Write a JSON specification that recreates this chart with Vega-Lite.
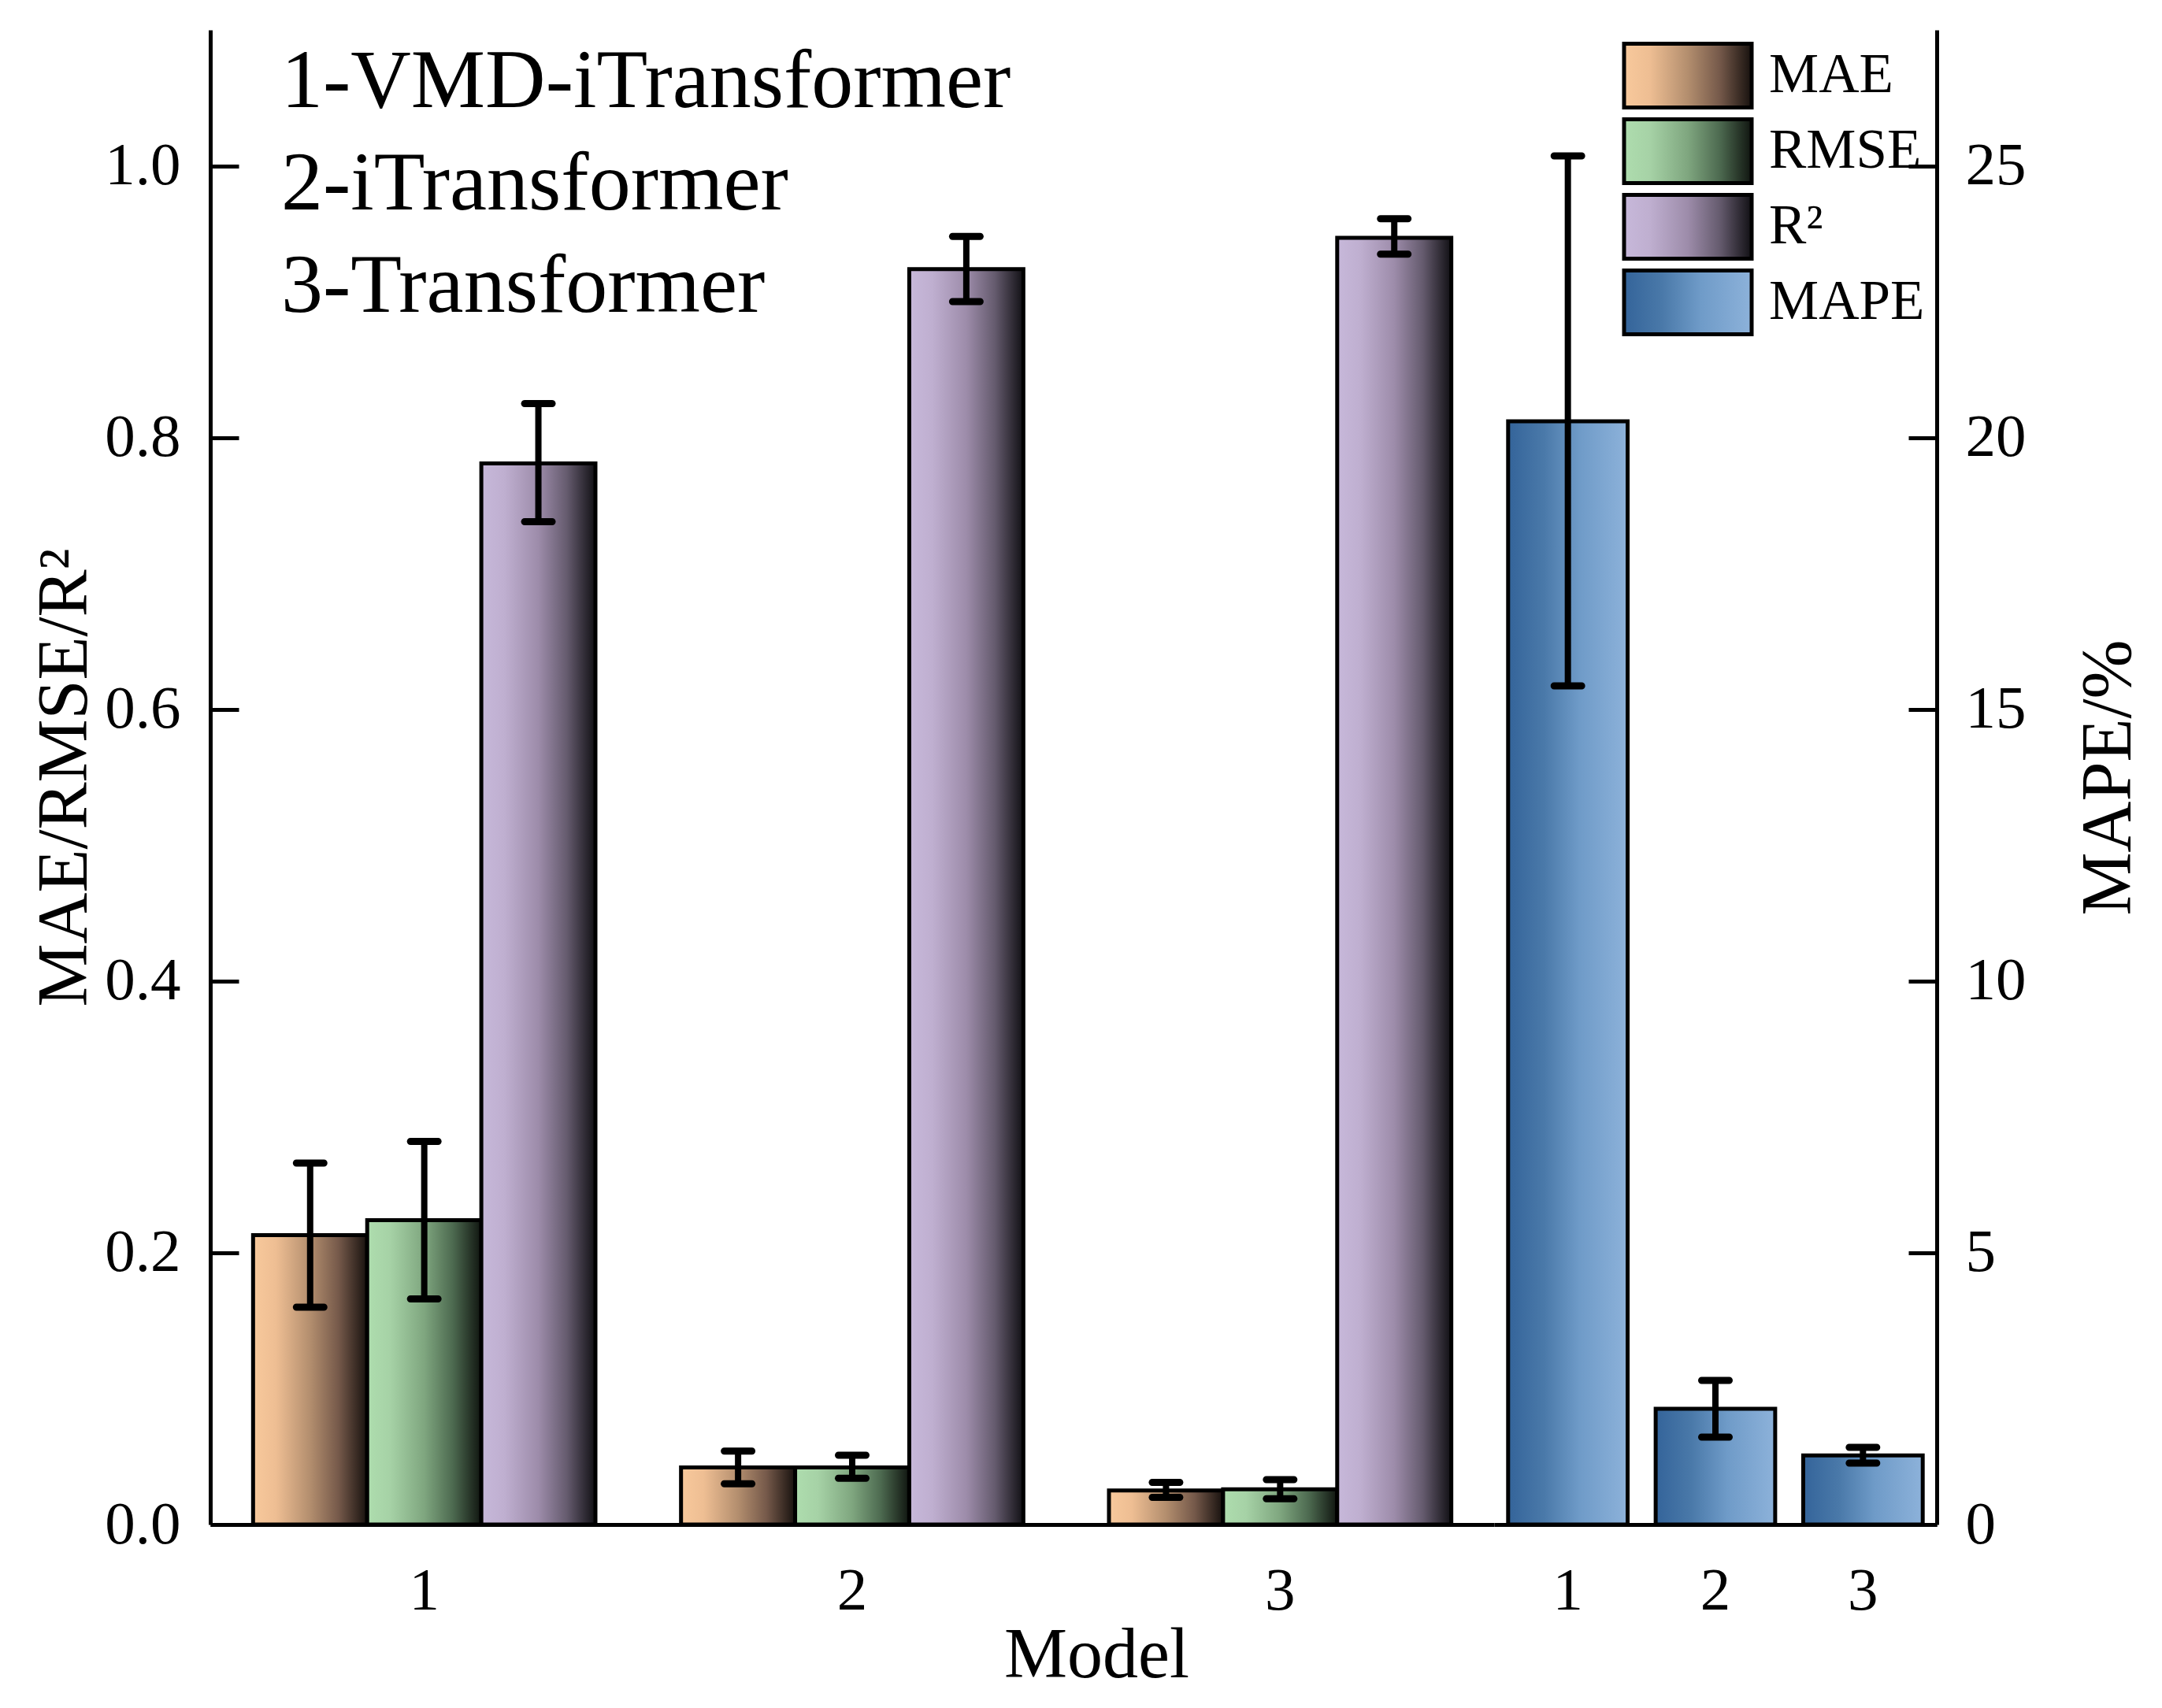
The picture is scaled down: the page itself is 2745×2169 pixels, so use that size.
{
  "$schema": "https://vega.github.io/schema/vega-lite/v6.json",
  "width": 2192,
  "height": 1898,
  "autosize": {"type": "none"},
  "padding": {"left": 267, "top": 38, "right": 286, "bottom": 233},
  "background": "white",
  "config": {
    "view": {"stroke": null},
    "font": "Liberation Serif",
    "axis": {
      "grid": false,
      "zindex": 1,
      "domainColor": "black",
      "domainWidth": 5,
      "tickColor": "black",
      "tickWidth": 5,
      "tickSize": -36,
      "labelColor": "black",
      "labelFont": "Liberation Serif",
      "labelFontSize": 77,
      "titleFont": "Liberation Serif",
      "titleFontSize": 90,
      "titleFontWeight": "normal",
      "titleColor": "black"
    },
    "legend": {
      "orient": "top-right",
      "offset": 15,
      "padding": 0,
      "title": null,
      "symbolType": "M-2,-1H2V1H-2Z",
      "symbolSize": 6561,
      "symbolStrokeColor": "black",
      "symbolStrokeWidth": 5,
      "symbolOpacity": 1,
      "labelFont": "Liberation Serif",
      "labelFontSize": 71,
      "labelColor": "black",
      "labelOffset": 60,
      "rowPadding": -6,
      "labelLimit": 400,
      "zindex": 2
    }
  },
  "title": {
    "text": ["1-VMD-iTransformer", "2-iTransformer", "3-Transformer"],
    "orient": "top",
    "anchor": "start",
    "frame": "group",
    "offset": -380,
    "dx": 90,
    "baseline": "top",
    "font": "Liberation Serif",
    "fontSize": 106,
    "fontWeight": "normal",
    "lineHeight": 130,
    "color": "black"
  },
  "data": {
    "values": [
      {"metric": "MAE", "model": "1", "value": 0.213, "low": 0.160, "high": 0.266},
      {"metric": "MAE", "model": "2", "value": 0.042, "low": 0.030, "high": 0.054},
      {"metric": "MAE", "model": "3", "value": 0.025, "low": 0.020, "high": 0.031},
      {"metric": "RMSE", "model": "1", "value": 0.224, "low": 0.166, "high": 0.282},
      {"metric": "RMSE", "model": "2", "value": 0.042, "low": 0.034, "high": 0.051},
      {"metric": "RMSE", "model": "3", "value": 0.026, "low": 0.019, "high": 0.033},
      {"metric": "R²", "model": "1", "value": 0.781, "low": 0.738, "high": 0.825},
      {"metric": "R²", "model": "2", "value": 0.924, "low": 0.900, "high": 0.948},
      {"metric": "R²", "model": "3", "value": 0.947, "low": 0.935, "high": 0.961},
      {"metric": "MAPE", "model": "1", "value": 20.3, "low": 15.43, "high": 25.18},
      {"metric": "MAPE", "model": "2", "value": 2.13, "low": 1.61, "high": 2.65},
      {"metric": "MAPE", "model": "3", "value": 1.27, "low": 1.13, "high": 1.42}
    ]
  },
  "layer": [
    {
      "transform": [{"filter": "datum.metric != 'MAPE'"}],
      "encoding": {
        "x": {
          "field": "model",
          "type": "nominal",
          "scale": {"range": [0, 1630], "paddingInner": 0.2, "paddingOuter": 0.1},
          "axis": {
            "orient": "bottom",
            "title": "Model",
            "titleX": 1125,
            "labelAngle": 0,
            "labelPadding": 82,
            "titlePadding": 0
          }
        },
        "xOffset": {
          "field": "metric",
          "type": "nominal",
          "scale": {"domain": ["MAE", "RMSE", "R²"], "paddingInner": 0, "paddingOuter": 0}
        }
      },
      "layer": [
        {
          "mark": {"type": "bar", "stroke": "black", "strokeWidth": 5, "opacity": 1},
          "encoding": {
            "y": {
              "field": "value",
              "type": "quantitative",
              "title": "MAE/RMSE/R²",
              "scale": {"domain": [0, 1.1], "nice": false},
              "axis": {
                "orient": "left",
                "values": [0, 0.2, 0.4, 0.6, 0.8, 1.0],
                "format": ".1f",
                "labelPadding": 74,
                "titlePadding": 4
              }
            },
            "color": {
              "field": "metric",
              "type": "nominal",
              "scale": {
                "domain": ["MAE", "RMSE", "R²", "MAPE"],
                "range": [
                  {"expr": "{gradient: 'linear', x1: 0, y1: 0, x2: 1, y2: 0, stops: [{offset: 0, color: '#f8c99c'}, {offset: 0.2, color: '#eebe93'}, {offset: 0.5, color: '#b38e6e'}, {offset: 0.75, color: '#75594a'}, {offset: 1, color: '#17110e'}]}"},
                  {"expr": "{gradient: 'linear', x1: 0, y1: 0, x2: 1, y2: 0, stops: [{offset: 0, color: '#aeddae'}, {offset: 0.2, color: '#a6d2a6'}, {offset: 0.5, color: '#7fa67f'}, {offset: 0.75, color: '#4d6a50'}, {offset: 1, color: '#101510'}]}"},
                  {"expr": "{gradient: 'linear', x1: 0, y1: 0, x2: 1, y2: 0, stops: [{offset: 0, color: '#c7b8da'}, {offset: 0.2, color: '#bfafd0'}, {offset: 0.5, color: '#9d8caa'}, {offset: 0.75, color: '#655b6e'}, {offset: 1, color: '#111014'}]}"},
                  {"expr": "{gradient: 'linear', x1: 0, y1: 0, x2: 1, y2: 0, stops: [{offset: 0, color: '#34649a'}, {offset: 0.3, color: '#4a79a9'}, {offset: 0.6, color: '#6f9bc8'}, {offset: 1, color: '#8db2da'}]}"}
                ]
              },
              "legend": {}
            }
          }
        },
        {
          "mark": {"type": "rule", "color": "black", "strokeWidth": 8},
          "encoding": {
            "y": {"field": "low", "type": "quantitative", "title": "MAE/RMSE/R²", "scale": {"domain": [0, 1.1], "nice": false}},
            "y2": {"field": "high"}
          }
        },
        {
          "mark": {"type": "tick", "color": "black", "thickness": 9, "size": 44, "cornerRadius": 4.5, "opacity": 1},
          "encoding": {
            "y": {"field": "low", "type": "quantitative", "title": "MAE/RMSE/R²", "scale": {"domain": [0, 1.1], "nice": false}}
          }
        },
        {
          "mark": {"type": "tick", "color": "black", "thickness": 9, "size": 44, "cornerRadius": 4.5, "opacity": 1},
          "encoding": {
            "y": {"field": "high", "type": "quantitative", "title": "MAE/RMSE/R²", "scale": {"domain": [0, 1.1], "nice": false}}
          }
        }
      ]
    },
    {
      "transform": [{"filter": "datum.metric == 'MAPE'"}],
      "encoding": {
        "x": {
          "field": "model",
          "type": "nominal",
          "scale": {"range": [1630, 2192], "paddingInner": 0.19, "paddingOuter": 0.095},
          "axis": {
            "orient": "bottom",
            "title": null,
            "labelAngle": 0,
            "labelPadding": 82
          }
        }
      },
      "layer": [
        {
          "mark": {"type": "bar", "stroke": "black", "strokeWidth": 5, "opacity": 1},
          "encoding": {
            "y": {
              "field": "value",
              "type": "quantitative",
              "title": "MAPE/%",
              "scale": {"domain": [0, 27.5], "nice": false},
              "axis": {
                "orient": "right",
                "values": [0, 5, 10, 15, 20, 25],
                "format": "d",
                "labelPadding": 72,
                "titleAngle": 270,
                "titlePadding": 151
              }
            },
            "color": {
              "field": "metric",
              "type": "nominal",
              "scale": {"domain": ["MAE", "RMSE", "R²", "MAPE"]}
            }
          }
        },
        {
          "mark": {"type": "rule", "color": "black", "strokeWidth": 8},
          "encoding": {
            "y": {"field": "low", "type": "quantitative", "title": "MAPE/%", "scale": {"domain": [0, 27.5], "nice": false}},
            "y2": {"field": "high"}
          }
        },
        {
          "mark": {"type": "tick", "color": "black", "thickness": 9, "size": 44, "cornerRadius": 4.5, "opacity": 1},
          "encoding": {
            "y": {"field": "low", "type": "quantitative", "title": "MAPE/%", "scale": {"domain": [0, 27.5], "nice": false}}
          }
        },
        {
          "mark": {"type": "tick", "color": "black", "thickness": 9, "size": 44, "cornerRadius": 4.5, "opacity": 1},
          "encoding": {
            "y": {"field": "high", "type": "quantitative", "title": "MAPE/%", "scale": {"domain": [0, 27.5], "nice": false}}
          }
        }
      ]
    }
  ],
  "resolve": {
    "scale": {"x": "independent", "y": "independent", "xOffset": "independent"},
    "axis": {"x": "independent", "y": "independent"}
  }
}
